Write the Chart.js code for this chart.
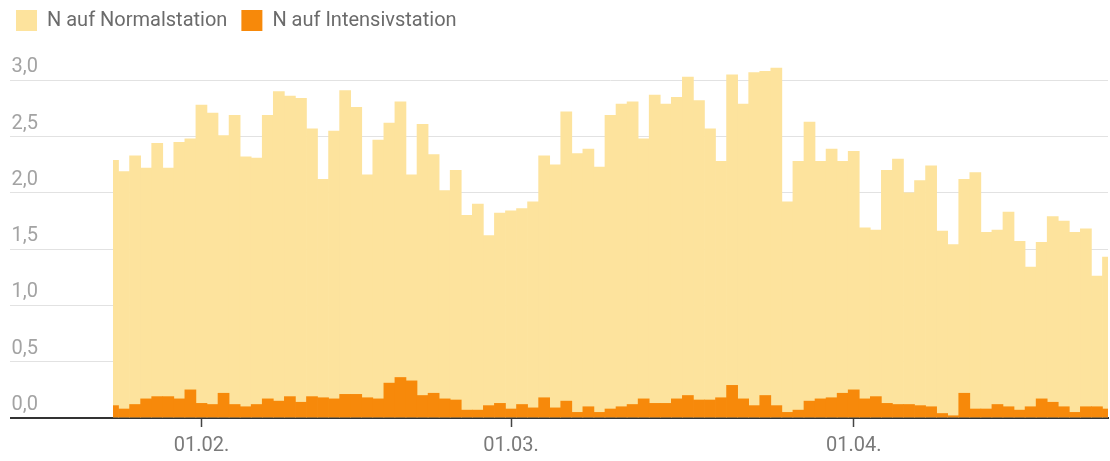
<!DOCTYPE html>
<html lang="de">
<head>
<meta charset="utf-8">
<title>Belegung Normalstation / Intensivstation</title>
<script src="https://cdn.jsdelivr.net/npm/chart.js@4/dist/chart.umd.min.js"></script>
<style>
    html, body { margin: 0; padding: 0; background: #fff; }
</style>
</head>
<body>
<canvas id="bar-chart" width="1110" height="461"></canvas>
<script>
// Daten

var days = [
    "24.01.", "25.01.", "26.01.", "27.01.", "28.01.", "29.01.", "30.01.", "31.01.",
    "01.02.", "02.02.", "03.02.", "04.02.", "05.02.", "06.02.", "07.02.", "08.02.", "09.02.", "10.02.",
    "11.02.", "12.02.", "13.02.", "14.02.", "15.02.", "16.02.", "17.02.", "18.02.", "19.02.", "20.02.",
    "21.02.", "22.02.", "23.02.", "24.02.", "25.02.", "26.02.", "27.02.", "28.02.",
    "01.03.", "02.03.", "03.03.", "04.03.", "05.03.", "06.03.", "07.03.", "08.03.", "09.03.", "10.03.",
    "11.03.", "12.03.", "13.03.", "14.03.", "15.03.", "16.03.", "17.03.", "18.03.", "19.03.", "20.03.",
    "21.03.", "22.03.", "23.03.", "24.03.", "25.03.", "26.03.", "27.03.", "28.03.", "29.03.", "30.03.", "31.03.",
    "01.04.", "02.04.", "03.04.", "04.04.", "05.04.", "06.04.", "07.04.", "08.04.", "09.04.", "10.04.",
    "11.04.", "12.04.", "13.04.", "14.04.", "15.04.", "16.04.", "17.04.", "18.04.", "19.04.", "20.04.",
    "21.04.", "22.04.", "23.04.", "24.04."
];

var normalstation = [
    2.29, 2.19, 2.33, 2.22, 2.44, 2.22, 2.45, 2.48,
    2.78, 2.71, 2.51, 2.69, 2.32, 2.31, 2.69, 2.90, 2.86, 2.84,
    2.57, 2.12, 2.55, 2.91, 2.76, 2.16, 2.47, 2.62, 2.81, 2.16,
    2.61, 2.34, 2.02, 2.20, 1.80, 1.90, 1.62, 1.82,
    1.84, 1.86, 1.92, 2.33, 2.25, 2.72, 2.35, 2.39, 2.23, 2.69,
    2.79, 2.81, 2.48, 2.87, 2.79, 2.85, 3.03, 2.82, 2.57, 2.28,
    3.05, 2.79, 3.07, 3.08, 3.11, 1.92, 2.28, 2.63, 2.28, 2.39, 2.28,
    2.37, 1.69, 1.67, 2.20, 2.30, 2.00, 2.11, 2.24, 1.66, 1.54,
    2.12, 2.18, 1.65, 1.67, 1.83, 1.57, 1.34, 1.56, 1.79, 1.75,
    1.65, 1.68, 1.26, 1.43
];

var intensivstation = [
    0.11, 0.08, 0.12, 0.17, 0.19, 0.19, 0.17, 0.25,
    0.13, 0.12, 0.22, 0.12, 0.10, 0.12, 0.17, 0.15, 0.19, 0.14,
    0.19, 0.18, 0.17, 0.21, 0.21, 0.18, 0.17, 0.31, 0.36, 0.33,
    0.20, 0.22, 0.17, 0.16, 0.07, 0.07, 0.11, 0.13,
    0.08, 0.12, 0.09, 0.18, 0.09, 0.15, 0.05, 0.10, 0.05, 0.08,
    0.10, 0.12, 0.17, 0.13, 0.13, 0.17, 0.20, 0.16, 0.16, 0.18,
    0.29, 0.17, 0.11, 0.20, 0.11, 0.05, 0.07, 0.15, 0.17, 0.18, 0.22,
    0.25, 0.17, 0.19, 0.13, 0.12, 0.12, 0.11, 0.10, 0.04, 0.02,
    0.22, 0.08, 0.08, 0.12, 0.10, 0.07, 0.10, 0.17, 0.14, 0.10,
    0.05, 0.10, 0.10, 0.08
];

var yTicks = [0, 0.5, 1, 1.5, 2, 2.5, 3];
var xTicks = ["01.02.", "01.03.", "01.04."];

Chart.defaults.font.family = "Roboto";

// y-Gitter: Nulllinie dunkel, sonst hellgrau
function gridColor(ctx) {
    return ctx.tick && ctx.tick.value === 0 ? "#333333" : "#e2e2e2";
}

new Chart(document.getElementById("bar-chart"), {
    type: 'bar',
    data: {
        labels: days,
        datasets: [
            {
                label: "N auf Intensivstation",
                backgroundColor: "#f7890a",
                borderWidth: 0,
                data: intensivstation
            },
            {
                label: "N auf Normalstation",
                backgroundColor: "#fde39d",
                borderWidth: 0,
                data: normalstation
            }
        ]
    },
    options: {
        responsive: false,
        animation: false,
        layout: { padding: { top: -4, left: 2, right: 2, bottom: 0 } },
        datasets: {
            bar: { grouped: false, categoryPercentage: 1, barPercentage: 1 }
        },
        plugins: {
            tooltip: { enabled: false },
            legend: {
                position: 'top',
                align: 'start',
                reverse: true,
                labels: {
                    boxWidth: 21,
                    boxHeight: 21,
                    padding: 14,
                    color: "#6b6b6b",
                    font: { size: 20 }
                }
            }
        },
        scales: {
            x: {
                offset: false,
                z: 1,
                border: { color: "#333333", width: 2 },
                grid: {
                    offset: false,
                    drawOnChartArea: false,
                    tickLength: 9,
                    tickColor: "#444444",
                    tickWidth: 1.5
                },
                ticks: {
                    autoSkip: false,
                    maxRotation: 0,
                    padding: 7,
                    color: "#7a7a7a",
                    font: { size: 20 }
                },
                afterBuildTicks: function (scale) {
                    scale.ticks = xTicks.map(function (l) { return { value: days.indexOf(l) }; });
                },
                afterFit: function (scale) { scale.height = 43; }
            },
            y: {
                min: 0,
                max: 3.35,
                border: { display: false },
                grid: {
                    color: gridColor,
                    tickColor: gridColor,
                    lineWidth: function (ctx) { return ctx.tick && ctx.tick.value === 0 ? 2 : 1; },
                    tickLength: 103
                },
                ticks: {
                    padding: -28,
                    labelOffset: -13,
                    color: "#a3a3a3",
                    font: { size: 20 },
                    callback: function (v) { return v.toFixed(1).replace(".", ","); }
                },
                afterBuildTicks: function (scale) {
                    scale.ticks = yTicks.map(function (v) { return { value: v }; });
                },
                afterFit: function (scale) { scale.width = 111; }
            }
        }
    }
});
</script>
</body>
</html>
